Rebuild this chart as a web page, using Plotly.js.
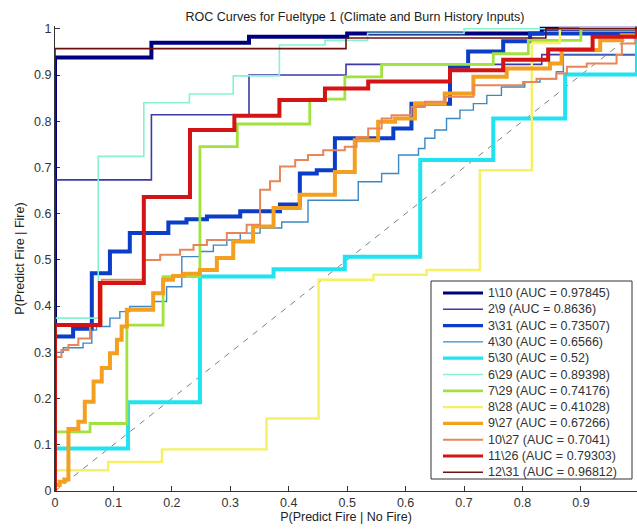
<!DOCTYPE html>
<html><head><meta charset="utf-8">
<script src="https://cdn.plot.ly/plotly-3.0.1.min.js"></script>
<style>html,body{margin:0;padding:0;background:#fff}</style>
</head><body>
<div id="chart" style="width:637px;height:529px"></div>
<script>
// ---- data ----
const seriesNames = ['1\\10','2\\9','3\\31','4\\30','5\\30','6\\29','7\\29','8\\28','9\\27','10\\27','11\\26','12\\31'];
const aucValues = ['0.97845','0.8636','0.73507','0.6566','0.52','0.89398','0.74176','0.41028','0.67266','0.7041','0.79303','0.96812'];

const fpr1 = [0,0,0.165,0.332,0.5,0.833,1];
const tpr1 = [0,0.938,0.970,0.983,0.99,1,1];

const fpr2 = [0,0,0.165,0.332,0.498,0.833,0.996,1];
const tpr2 = [0,0.673,0.814,0.9,0.923,0.944,1,1];

const fpr3 = [0,0,0.031,0.063,0.094,0.128,0.194,0.225,0.26,0.317,0.385,0.419,0.448,0.479,0.579,0.61,0.676,0.707,0.767,0.813,0.996,1];
const tpr3 = [0,0.334,0.351,0.471,0.518,0.558,0.581,0.588,0.594,0.605,0.62,0.687,0.694,0.763,0.784,0.838,0.918,0.951,0.973,0.99,1,1];

const fpr4 = [0,0,0.014,0.048,0.063,0.071,0.094,0.111,0.128,0.168,0.191,0.217,0.248,0.271,0.294,0.317,0.351,0.388,0.433,0.519,0.559,0.588,0.622,0.633,0.65,0.67,0.693,0.716,0.739,0.764,0.804,0.83,0.858,0.87,0.996,1];
const tpr4 = [0,0.30,0.31,0.32,0.348,0.356,0.374,0.388,0.399,0.41,0.442,0.507,0.518,0.532,0.543,0.558,0.569,0.582,0.629,0.669,0.687,0.727,0.741,0.763,0.781,0.806,0.824,0.838,0.856,0.874,0.885,0.892,0.907,0.943,1,1];

const fpr5 = [0,0,0.125,0.248,0.374,0.496,0.625,0.75,0.873,0.996,1];
const tpr5 = [0,0.092,0.192,0.464,0.48,0.507,0.716,0.806,0.901,1,1];

const fpr6 = [0,0,0.074,0.152,0.23,0.305,0.384,0.462,0.535,0.7,1];
const tpr6 = [0,0.374,0.724,0.84,0.859,0.898,0.965,0.975,0.99,1,1];

const fpr7 = [0,0,0.06,0.123,0.185,0.248,0.312,0.436,0.496,0.559,0.75,0.81,0.9,1];
const tpr7 = [0,0.128,0.146,0.359,0.464,0.745,0.794,0.848,0.896,0.923,0.946,0.975,1,1];

const fpr8 = [0,0,0.091,0.183,0.362,0.451,0.545,0.636,0.727,0.816,0.864,1];
const tpr8 = [0,0.045,0.063,0.09,0.157,0.457,0.468,0.478,0.694,0.969,1,1];

const fpr9 = [0,0,0.008,0.016,0.023,0.04,0.051,0.066,0.08,0.094,0.106,0.114,0.123,0.168,0.185,0.202,0.22,0.248,0.277,0.305,0.339,0.374,0.419,0.479,0.513,0.553,0.582,0.616,0.667,0.716,0.773,0.847,0.867,0.933,0.97,0.996,1];
const tpr9 = [0,0.013,0.02,0.025,0.134,0.15,0.193,0.237,0.266,0.298,0.327,0.356,0.392,0.428,0.457,0.465,0.47,0.478,0.504,0.54,0.572,0.612,0.641,0.69,0.759,0.799,0.806,0.838,0.86,0.896,0.914,0.925,0.954,0.975,0.986,1,1];

const fpr10 = [0,0,0.011,0.023,0.04,0.06,0.08,0.151,0.18,0.214,0.237,0.26,0.294,0.328,0.351,0.368,0.385,0.411,0.433,0.459,0.496,0.516,0.536,0.559,0.576,0.61,0.633,0.667,0.716,0.801,0.824,0.858,0.876,0.91,0.961,0.97,0.993,1];
const tpr10 = [0,0.29,0.305,0.316,0.33,0.359,0.457,0.5,0.511,0.522,0.532,0.543,0.558,0.576,0.652,0.67,0.702,0.716,0.727,0.737,0.745,0.766,0.784,0.806,0.813,0.831,0.842,0.853,0.878,0.885,0.892,0.903,0.918,0.925,0.943,0.968,0.983,1];

const fpr11 = [0,0,0.077,0.152,0.231,0.307,0.384,0.462,0.536,0.676,0.767,0.844,0.92,0.996,1];
const tpr11 = [0,0.359,0.45,0.636,0.781,0.812,0.846,0.871,0.886,0.91,0.933,0.955,0.983,1,1];

const fpr12 = [0,0,0.498,0.84,1];
const tpr12 = [0,0.957,0.98,1,1];

const chanceX = [0,1];
const chanceY = [0,1];

// ---- styles ----
const colors = ['#00007f','#3b3ba6','#0a3ec8','#3d88c4','#1fe3f0','#85f2d2','#a2e23e','#f6f064','#f3a020','#e8865a','#d41414','#6e1010'];
const widths = [4,1.6,4,1.4,4,1.6,2.8,2.4,4,2,4,1.6];

const fprs = [fpr1,fpr2,fpr3,fpr4,fpr5,fpr6,fpr7,fpr8,fpr9,fpr10,fpr11,fpr12];
const tprs = [tpr1,tpr2,tpr3,tpr4,tpr5,tpr6,tpr7,tpr8,tpr9,tpr10,tpr11,tpr12];

const FONT = 'Liberation Sans, Arial, Helvetica, sans-serif';
const FS = 12.5;

const traces = [{
  type:'scatter', mode:'lines', x:chanceX, y:chanceY, hoverinfo:'skip', showlegend:false,
  line:{color:'#808080', width:1, dash:'6px,6px'}
}];
seriesNames.forEach((n,i)=>{
  traces.push({
    type:'scatter', mode:'lines', name:n + ' (AUC = ' + aucValues[i] + ')',
    x:fprs[i], y:tprs[i], hoverinfo:'skip',
    line:{shape:'hv', color:colors[i], width:widths[i]}
  });
});

// geometry (px) for the hand-drawn legend
const W = 637, H = 529, ML = 55, MR = 0, MT = 26, MB = 38;
const PW = W - ML - MR, PH = H - MT - MB;
const xp = px => (px - ML) / PW;
const yp = py => (H - MB - py) / PH;

const shapes = [{
  type:'rect', xref:'paper', yref:'paper',
  x0:xp(431), x1:xp(632), y0:yp(479), y1:yp(281),
  line:{color:'#333', width:1}, fillcolor:'#ffffff', layer:'above'
}];
const annotations = [];
seriesNames.forEach((n,i)=>{
  const cy = 293 + i*16.3;
  shapes.push({type:'line', xref:'paper', yref:'paper', x0:xp(443), x1:xp(483), y0:yp(cy), y1:yp(cy),
    line:{color:colors[i], width:Math.min(widths[i],3.2)}, layer:'above'});
  annotations.push({xref:'paper', yref:'paper', x:xp(486), y:yp(cy), xanchor:'left', yanchor:'middle',
    showarrow:false, text:n + ' (AUC = ' + aucValues[i] + ')', font:{family:FONT, size:FS, color:'#333'}});
});

const axisCommon = {
  ticks:'inside', ticklen:5, tickwidth:1, tickcolor:'#333', showline:true, linecolor:'#333', linewidth:1,
  showgrid:false, zeroline:false, tick0:0, dtick:0.1, layer:'below traces',
  tickfont:{family:FONT, size:FS, color:'#333'}
};

const layout = {
  width:W, height:H, margin:{l:ML, r:MR, t:MT, b:MB, pad:0},
  paper_bgcolor:'#fff', plot_bgcolor:'#fff', showlegend:false,
  font:{family:FONT, size:FS, color:'#333'},
  title:{text:'ROC Curves for Fueltype 1 (Climate and Burn History Inputs)', font:{family:FONT, size:FS, color:'#222'},
    xref:'container', x:355/W, xanchor:'center', yref:'container', y:1-16.5/H, yanchor:'middle'},
  xaxis:Object.assign({}, axisCommon, {range:[0,0.996],
    title:{text:'P(Predict Fire | No Fire)', font:{family:FONT, size:FS, color:'#222'}, standoff:3}}),
  yaxis:Object.assign({}, axisCommon, {range:[0,1.006],
    title:{text:'P(Predict Fire | Fire)', font:{family:FONT, size:FS, color:'#222'}, standoff:6}}),
  shapes:shapes, annotations:annotations
};

Plotly.newPlot('chart', traces, layout, {displayModeBar:false, staticPlot:true});
</script>
</body></html>
